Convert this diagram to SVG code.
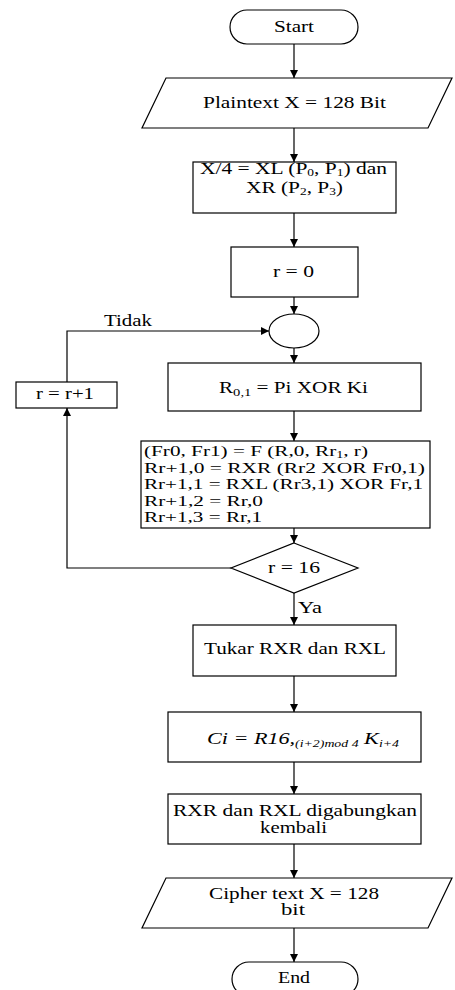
<svg xmlns="http://www.w3.org/2000/svg" width="455" height="990" viewBox="0 0 455 990">
<defs>
<marker id="ah" markerWidth="8" markerHeight="8" refX="8" refY="4" orient="auto" markerUnits="userSpaceOnUse">
<path d="M0,0 L8,4 L0,8 z" fill="#000"/>
</marker>
<style>
.s{fill:#fff;stroke:#000;stroke-width:1.2}
.c{fill:none;stroke:#000;stroke-width:1.2}
.t{font-family:"Liberation Serif","Times New Roman",serif;font-size:16px;fill:#000}
.m{font-size:15px}
.i{font-style:italic}
</style>
</defs>
<rect width="455" height="990" fill="#fff"/>
<g id="connectors">
<line class="c" x1="294" y1="44" x2="294" y2="78" marker-end="url(#ah)"/>
<line class="c" x1="294" y1="128" x2="294" y2="162" marker-end="url(#ah)"/>
<line class="c" x1="294" y1="213" x2="294" y2="247" marker-end="url(#ah)"/>
<line class="c" x1="294" y1="297" x2="294" y2="314" marker-end="url(#ah)"/>
<line class="c" x1="294" y1="348" x2="294" y2="363" marker-end="url(#ah)"/>
<line class="c" x1="294" y1="411" x2="294" y2="441" marker-end="url(#ah)"/>
<line class="c" x1="294" y1="528" x2="294" y2="543" marker-end="url(#ah)"/>
<polyline class="c" points="231,568 67,568 67,408" marker-end="url(#ah)"/>
<polyline class="c" points="67,382 67,331 269,331" marker-end="url(#ah)"/>
<line class="c" x1="294" y1="593" x2="294" y2="625" marker-end="url(#ah)"/>
<line class="c" x1="294" y1="676" x2="294" y2="712" marker-end="url(#ah)"/>
<line class="c" x1="294" y1="762" x2="294" y2="794" marker-end="url(#ah)"/>
<line class="c" x1="294" y1="844" x2="294" y2="878" marker-end="url(#ah)"/>
<line class="c" x1="294" y1="928" x2="294" y2="962" marker-end="url(#ah)"/>
<text class="t" x="104" y="326" textLength="48" lengthAdjust="spacingAndGlyphs">Tidak</text>
<text class="t" x="298" y="613" textLength="24" lengthAdjust="spacingAndGlyphs">Ya</text>
</g>
<g id="start">
<rect class="s" x="230" y="10" width="128" height="34" rx="17"/>
<text class="t" x="274" y="32" textLength="40" lengthAdjust="spacingAndGlyphs">Start</text>
</g>
<g id="plaintext">
<polygon class="s" points="166,78 452,78 428,128 142,128"/>
<text class="t" x="203" y="108" textLength="183" lengthAdjust="spacingAndGlyphs">Plaintext X = 128 Bit</text>
</g>
<g id="split">
<rect class="s" x="193" y="162" width="203" height="51"/>
<text class="t" x="200" y="174" textLength="187" lengthAdjust="spacingAndGlyphs">X/4 = XL (P<tspan font-size="10" dy="2">0</tspan><tspan dy="-2">, P</tspan><tspan font-size="10" dy="2">1</tspan><tspan dy="-2">) dan</tspan></text>
<text class="t" x="246" y="193" textLength="97" lengthAdjust="spacingAndGlyphs">XR (P<tspan font-size="10" dy="2">2</tspan><tspan dy="-2">, P</tspan><tspan font-size="10" dy="2">3</tspan><tspan dy="-2">)</tspan></text>
</g>
<g id="r0">
<rect class="s" x="231" y="247" width="127" height="50"/>
<text class="t" x="273" y="277" textLength="41" lengthAdjust="spacingAndGlyphs">r = 0</text>
</g>
<g id="junction">
<ellipse class="s" cx="294" cy="331" rx="25" ry="17"/>
</g>
<g id="rplus">
<rect class="s" x="16" y="382" width="101" height="26"/>
<text class="t" x="36" y="399" textLength="58" lengthAdjust="spacingAndGlyphs">r = r+1</text>
</g>
<g id="init">
<rect class="s" x="168" y="363" width="253" height="48"/>
<text class="t" x="219" y="393" textLength="149" lengthAdjust="spacingAndGlyphs">R<tspan font-size="11" dy="3">0,1</tspan><tspan dy="-3"> = Pi XOR Ki</tspan></text>
</g>
<g id="round">
<rect class="s" x="141" y="441" width="289" height="87"/>
<text class="t m" x="144" y="456" textLength="224" lengthAdjust="spacingAndGlyphs">(Fr0, Fr1) = F (R,0, Rr<tspan font-size="10" dy="2">1</tspan><tspan dy="-2">, r)</tspan></text>
<text class="t m" x="144" y="472.5" textLength="281" lengthAdjust="spacingAndGlyphs">Rr+1,0 = RXR (Rr2 XOR Fr0,1)</text>
<text class="t m" x="144" y="489" textLength="279" lengthAdjust="spacingAndGlyphs">Rr+1,1 = RXL (Rr3,1) XOR Fr,1</text>
<text class="t m" x="144" y="505.5" textLength="119" lengthAdjust="spacingAndGlyphs">Rr+1,2 = Rr,0</text>
<text class="t m" x="144" y="522" textLength="118" lengthAdjust="spacingAndGlyphs">Rr+1,3 = Rr,1</text>
</g>
<g id="decision">
<polygon class="s" points="294,543 358,568 294,593 231,568"/>
<text class="t" x="268" y="573" textLength="52" lengthAdjust="spacingAndGlyphs">r = 16</text>
</g>
<g id="swap">
<rect class="s" x="193" y="625" width="203" height="51"/>
<text class="t" x="204" y="654" textLength="182" lengthAdjust="spacingAndGlyphs">Tukar RXR dan RXL</text>
</g>
<g id="cipherfn">
<rect class="s" x="168" y="712" width="253" height="50"/>
<text class="t i" x="207" y="744" textLength="192" lengthAdjust="spacingAndGlyphs">Ci = R16,<tspan font-size="10" dy="3">(i+2)mod 4</tspan><tspan dy="-3">  K</tspan><tspan font-size="10" dy="3">i+4</tspan></text>
</g>
<g id="merge">
<rect class="s" x="168" y="794" width="253" height="50"/>
<text class="t" x="173" y="816" textLength="244" lengthAdjust="spacingAndGlyphs">RXR dan RXL digabungkan</text>
<text class="t" x="260" y="833" textLength="67" lengthAdjust="spacingAndGlyphs">kembali</text>
</g>
<g id="ciphertext">
<polygon class="s" points="166,878 452,878 428,928 142,928"/>
<text class="t" x="209" y="899" textLength="170" lengthAdjust="spacingAndGlyphs">Cipher text X = 128</text>
<text class="t" x="281" y="915" textLength="24" lengthAdjust="spacingAndGlyphs">bit</text>
</g>
<g id="end">
<rect class="s" x="232" y="962" width="126" height="34" rx="17"/>
<text class="t" x="278" y="983" textLength="32" lengthAdjust="spacingAndGlyphs">End</text>
</g>
</svg>
